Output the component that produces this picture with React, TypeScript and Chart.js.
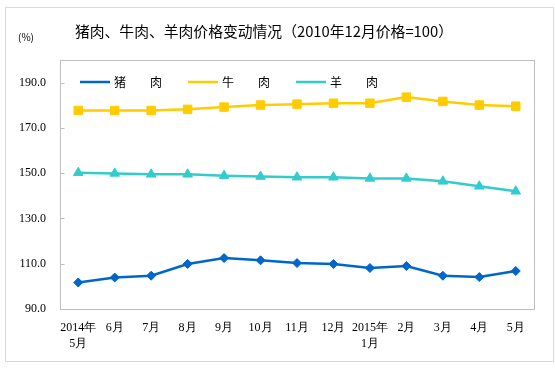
import React, { useEffect, useRef } from 'react';
import { Chart, registerables } from 'chart.js';
import { drawPoint } from 'chart.js/helpers';

Chart.register(...registerables);

const categories: string[][] = [
  ['2014年', '5月'], ['6月'], ['7月'], ['8月'], ['9月'], ['10月'], ['11月'],
  ['12月'], ['2015年', '1月'], ['2月'], ['3月'], ['4月'], ['5月'],
];
const porkValues = [101.7, 103.9, 104.7, 109.9, 112.5, 111.5, 110.3, 109.9, 108.1, 109.0, 104.7, 104.1, 106.8];
const beefValues = [177.7, 177.7, 177.7, 178.2, 179.2, 180.1, 180.5, 180.9, 180.9, 183.6, 181.7, 180.1, 179.6];
const muttonValues = [150.2, 149.9, 149.5, 149.5, 148.9, 148.5, 148.2, 148.2, 147.7, 147.7, 146.4, 144.2, 142.0];
const seriesNames = ['猪　　肉', '牛　　肉', '羊　　肉'];
const yTickValues = [90, 110, 130, 150, 170, 190];
const yMin = 90;
const yMax = 200;
const titleText = '猪肉、牛肉、羊肉价格变动情况（2010年12月价格=100）';
const unitText = '(%)';

const SANS = '"Noto Sans CJK SC", "Noto Sans", sans-serif';
const SERIF = '"Times New Roman", "Liberation Serif", "DejaVu Serif", serif';

const decorPlugin = {
  id: 'decor',
  beforeDraw(chart: any) {
    const { ctx, width, height } = chart;
    ctx.save();
    ctx.fillStyle = '#ffffff';
    ctx.fillRect(0, 0, width, height);
    ctx.restore();
  },
  afterDraw(chart: any) {
    const { ctx, chartArea: a } = chart;
    ctx.save();
    // plot frame
    ctx.strokeStyle = '#bfbfbf';
    ctx.lineWidth = 1;
    const l = Math.round(a.left) + 0.5;
    const t = Math.round(a.top) + 0.5;
    const r = Math.round(a.right) + 0.5;
    const b = Math.round(a.bottom) + 0.5;
    ctx.strokeRect(l, t, r - l, b - t);

    // inward y tick marks
    const ys = chart.scales.y;
    ctx.beginPath();
    yTickValues.forEach((v) => {
      const py = Math.round(ys.getPixelForValue(v)) + 0.5;
      ctx.moveTo(l, py);
      ctx.lineTo(l + 4, py);
    });
    ctx.stroke();

    // title
    ctx.fillStyle = '#000000';
    ctx.textBaseline = 'middle';
    ctx.textAlign = 'center';
    ctx.font = `14.8px ${SANS}`;
    ctx.fillText(titleText, 264, 31);

    // unit
    ctx.textAlign = 'left';
    ctx.font = `10px ${SANS}`;
    ctx.fillText(unitText, 18, 37);

    // legend inside chart area
    const ly = a.top + 22;
    chart.data.datasets.forEach((ds: any, i: number) => {
      const x0 = a.left + 20 + i * 108;
      ctx.strokeStyle = ds.borderColor;
      ctx.lineWidth = 2.5;
      ctx.beginPath();
      ctx.moveTo(x0, ly);
      ctx.lineTo(x0 + 30, ly);
      ctx.stroke();
      ctx.fillStyle = ds.pointBackgroundColor;
      ctx.strokeStyle = ds.pointBorderColor;
      ctx.lineWidth = 1;
      drawPoint(ctx, { pointStyle: ds.pointStyle, rotation: 0, borderWidth: 1 } as any, x0 + 15, ly);
      ctx.fillStyle = '#000000';
      ctx.textAlign = 'left';
      ctx.textBaseline = 'middle';
      ctx.font = `12px ${SANS}`;
      ctx.fillText(ds.label, x0 + 34, ly);
    });
    ctx.restore();
  },
};

export default function App() {
  const canvasRef = useRef<HTMLCanvasElement | null>(null);

  useEffect(() => {
    const canvas = canvasRef.current;
    if (!canvas) return;
    const colors = ['#0066CC', '#FFCC00', '#33CCCC'];
    const styles = ['rectRot', 'rect', 'triangle'];
    const radii = [4.5, 6, 5.5];
    const values = [porkValues, beefValues, muttonValues];
    const chart = new Chart(canvas, {
      type: 'line',
      data: {
        labels: categories as any,
        datasets: values.map((v, i) => ({
          label: seriesNames[i],
          data: v,
          borderColor: colors[i],
          backgroundColor: colors[i],
          pointBackgroundColor: colors[i],
          pointBorderColor: colors[i],
          pointStyle: styles[i] as any,
          pointRadius: radii[i],
          pointBorderWidth: 1,
          borderWidth: 2.5,
          tension: 0,
          fill: false,
        })),
      },
      options: {
        animation: false,
        responsive: false,
        maintainAspectRatio: false,
        devicePixelRatio: 1,
        layout: { padding: { left: 0, right: 21, top: 60, bottom: 0 } },
        plugins: {
          legend: { display: false },
          title: { display: false },
          tooltip: { enabled: false },
        },
        scales: {
          x: {
            type: 'category',
            offset: true,
            grid: { display: false, drawTicks: false },
            border: { display: true, color: '#bfbfbf' },
            ticks: {
              color: '#000000',
              font: { family: SERIF, size: 12, lineHeight: 1.4 },
              padding: 10,
              maxRotation: 0,
              autoSkip: false,
            },
            afterFit: (s: any) => { s.height = 59; },
          },
          y: {
            min: yMin,
            max: yMax,
            grid: { display: false, drawTicks: false },
            border: { display: true, color: '#bfbfbf' },
            ticks: {
              color: '#000000',
              font: { family: SERIF, size: 12 },
              padding: 14,
              callback: (v: any) => Number(v).toFixed(1),
            },
            afterBuildTicks: (s: any) => { s.ticks = yTickValues.map((v) => ({ value: v })); },
            afterFit: (s: any) => { s.width = 60; },
          },
        },
      },
      plugins: [decorPlugin],
    });
    return () => chart.destroy();
  }, []);

  return (
    <div style={{ position: 'fixed', left: 0, top: 0, width: 555, height: 368, background: '#ffffff' }}>
      <canvas ref={canvasRef} width={555} height={368} style={{ position: 'absolute', left: 0, top: 0, width: 555, height: 368 }} />
      <div style={{ position: 'absolute', left: 5, top: 7, width: 549, height: 355, border: '1px solid #d9d9d9', boxSizing: 'border-box', pointerEvents: 'none' }} />
    </div>
  );
}
